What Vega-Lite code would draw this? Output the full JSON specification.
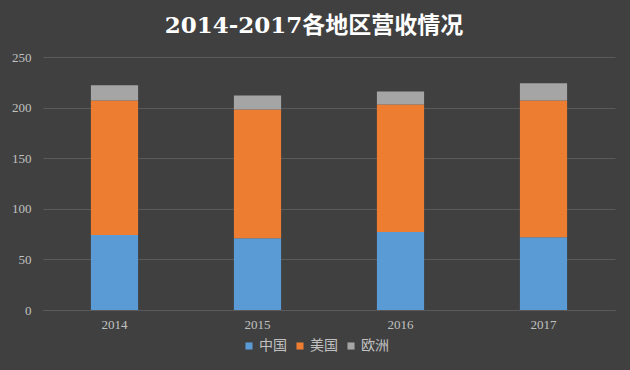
{
  "$schema": "https://vega.github.io/schema/vega-lite/v6.json",
  "autosize": {"type": "none"},
  "width": 572,
  "height": 253,
  "padding": {"left": 43, "top": 57, "right": 15, "bottom": 60},
  "background": "#404040",
  "title": {
    "text": "2014-2017各地区营收情况",
    "font": "DejaVu Serif, 'Noto Sans CJK SC'",
    "fontSize": 23,
    "fontWeight": "bold",
    "color": "#ffffff",
    "anchor": "middle",
    "offset": 13,
    "dx": -15
  },
  "data": {
    "values": [
      {"year": "2014", "region": "中国", "value": 74},
      {"year": "2014", "region": "美国", "value": 133},
      {"year": "2014", "region": "欧洲", "value": 15},
      {"year": "2015", "region": "中国", "value": 71},
      {"year": "2015", "region": "美国", "value": 127},
      {"year": "2015", "region": "欧洲", "value": 14},
      {"year": "2016", "region": "中国", "value": 77},
      {"year": "2016", "region": "美国", "value": 126},
      {"year": "2016", "region": "欧洲", "value": 13},
      {"year": "2017", "region": "中国", "value": 72},
      {"year": "2017", "region": "美国", "value": 135},
      {"year": "2017", "region": "欧洲", "value": 17}
    ]
  },
  "transform": [
    {"calculate": "indexof(['中国', '美国', '欧洲'], datum.region)", "as": "k"}
  ],
  "mark": {"type": "bar"},
  "encoding": {
    "x": {
      "field": "year", "type": "nominal",
      "scale": {"paddingInner": 0.67, "paddingOuter": 0.335},
      "axis": {
        "title": null, "labelAngle": 0, "ticks": false,
        "domainColor": "#5a5a5a", "labelColor": "#c0c0c0",
        "labelFont": "Liberation Serif", "labelFontSize": 13, "labelPadding": 8
      }
    },
    "y": {
      "field": "value", "type": "quantitative", "stack": "zero",
      "scale": {"domain": [0, 250]},
      "axis": {
        "title": null, "values": [0, 50, 100, 150, 200, 250],
        "domain": false, "ticks": false, "gridColor": "#5a5a5a",
        "labelColor": "#c0c0c0", "labelFont": "Liberation Serif",
        "labelFontSize": 13, "labelPadding": 12
      }
    },
    "color": {
      "field": "region", "type": "nominal",
      "scale": {"domain": ["中国", "美国", "欧洲"], "range": ["#5b9bd5", "#ed7d31", "#a5a5a5"]},
      "legend": {
        "title": null, "orient": "none", "direction": "horizontal",
        "legendX": 199, "legendY": 282,
        "symbolType": "square", "symbolSize": 50, "symbolStrokeWidth": 0,
        "labelColor": "#c0c0c0", "labelFont": "'Noto Sans CJK SC'",
        "labelFontSize": 14, "columnPadding": 6, "labelOffset": 3
      }
    },
    "order": {"field": "k", "type": "quantitative", "sort": "ascending"}
  },
  "config": {"view": {"stroke": null}}
}
